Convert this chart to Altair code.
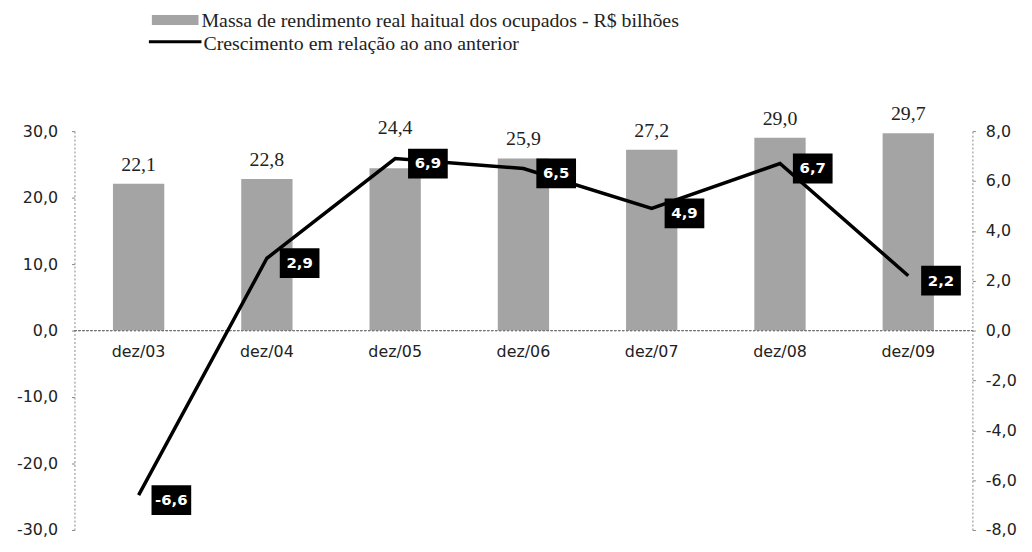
import altair as alt
import pandas as pd

categories = ["dez/03", "dez/04", "dez/05", "dez/06", "dez/07", "dez/08", "dez/09"]
massa = [22.1, 22.8, 24.4, 25.9, 27.2, 29.0, 29.7]
crescimento = [-6.6, 2.9, 6.9, 6.5, 4.9, 6.7, 2.2]
legend_labels = [
    "Massa de rendimento real haitual dos ocupados - R$ bilhões",
    "Crescimento em relação ao ano anterior",
]
left_ticks = [-30, -20, -10, 0, 10, 20, 30]
right_ticks = [-8, -6, -4, -2, 0, 2, 4, 6, 8]

def br(v):
    return f"{v:.1f}".replace(".", ",")

df = pd.DataFrame({
    "cat": categories,
    "massa": massa,
    "cresc": crescimento,
    "massa_lbl": [br(v) for v in massa],
    "cresc_lbl": [br(v) for v in crescimento],
    "zero": [0.0] * len(categories),
})

SANS = "DejaVu Sans"
SERIF = "Liberation Serif"

xenc = alt.X("cat:N", sort=categories, axis=None,
             scale=alt.Scale(paddingInner=0.6, paddingOuter=0.3))
ybar_scale = alt.Scale(domain=[-30, 30], nice=False, zero=False)
yline_scale = alt.Scale(domain=[-8, 8], nice=False, zero=False)

label_expr = "replace(replace(format(datum.value, '.1f'), '.', ','), '\u2212', '-')"

base = alt.Chart(df)

bars = base.mark_bar(color="#a4a4a4").encode(
    x=xenc,
    y=alt.Y("massa:Q", scale=ybar_scale, title=None,
            axis=alt.Axis(values=left_ticks, labelExpr=label_expr, grid=False,
                          labelFont=SANS, labelFontSize=16, labelColor="#222",
                          labelPadding=14, tickSize=3, tickColor="#888",
                          domainColor="#888", domainDash=[2, 2], orient="left")),
)

zero_rule = base.mark_rule(color="#777", strokeDash=[2, 2], strokeWidth=1).encode(
    y=alt.Y("zero:Q", scale=ybar_scale),
    x=alt.value(0), x2=alt.value(905),
)

bar_text = base.transform_filter(alt.datum.cat != "dez/05").mark_text(
    font=SERIF, fontSize=20, color="#222", baseline="bottom", dy=-9).encode(
    x=xenc, y=alt.Y("massa:Q", scale=ybar_scale), text="massa_lbl:N",
)
# the label over dez/05 sits higher so that it clears the line's value box
bar_text_raised = base.transform_filter(alt.datum.cat == "dez/05").mark_text(
    font=SERIF, fontSize=20, color="#222", baseline="bottom", dy=-31).encode(
    x=xenc, y=alt.Y("massa:Q", scale=ybar_scale), text="massa_lbl:N",
)

cat_text = base.mark_text(font=SANS, fontSize=16, color="#222", baseline="middle", dy=22).encode(
    x=xenc, y=alt.Y("zero:Q", scale=ybar_scale), text="cat:N",
)

# legend
leg_rect = alt.Chart(pd.DataFrame({"a": [0]})).mark_rect(color="#a4a4a4").encode(
    x=alt.value(78), x2=alt.value(125), y=alt.value(-117), y2=alt.value(-107))
leg_rule = alt.Chart(pd.DataFrame({"a": [0]})).mark_rule(color="black", strokeWidth=3).encode(
    x=alt.value(75), x2=alt.value(128), y=alt.value(-90))
leg_t1 = alt.Chart(pd.DataFrame({"t": [legend_labels[0]]})).mark_text(
    font=SERIF, fontSize=20, color="#222", align="left", baseline="middle").encode(
    x=alt.value(128), y=alt.value(-111), text="t:N")
leg_t2 = alt.Chart(pd.DataFrame({"t": [legend_labels[1]]})).mark_text(
    font=SERIF, fontSize=20, color="#222", align="left", baseline="middle").encode(
    x=alt.value(130), y=alt.value(-88), text="t:N")

bar_group = alt.layer(bars, zero_rule, bar_text, bar_text_raised, cat_text,
                      leg_rect, leg_rule, leg_t1, leg_t2)

line = base.mark_line(color="black", strokeWidth=3.5).encode(
    x=xenc,
    y=alt.Y("cresc:Q", scale=yline_scale, title=None,
            axis=alt.Axis(values=right_ticks, labelExpr=label_expr, grid=False,
                          labelFont=SANS, labelFontSize=16, labelColor="#222",
                          labelPadding=10, tickSize=3, tickColor="#888",
                          domainColor="#888", domainDash=[2, 2], orient="right")),
)

box = base.mark_point(shape="M-1,-0.75L1,-0.75L1,0.75L-1,0.75Z", size=1600, filled=True,
                      color="black", opacity=1, xOffset=33, yOffset=5).encode(
    x=xenc, y=alt.Y("cresc:Q", scale=yline_scale),
)
box_text = base.mark_text(font=SANS, fontSize=15, fontWeight="bold", color="white",
                          xOffset=33, yOffset=5, baseline="middle").encode(
    x=xenc, y=alt.Y("cresc:Q", scale=yline_scale), text="cresc_lbl:N",
)

line_group = alt.layer(line, box, box_text)

chart = alt.layer(bar_group, line_group).resolve_scale(y="independent").properties(
    width=905, height=402,
    autosize=alt.AutoSizeParams(type="none"),
    padding={"left": 67, "top": 122, "right": 52, "bottom": 10},
    background="white",
).configure_view(stroke=None)

chart.save("out.html", embed_options={"renderer": "svg", "actions": False})
